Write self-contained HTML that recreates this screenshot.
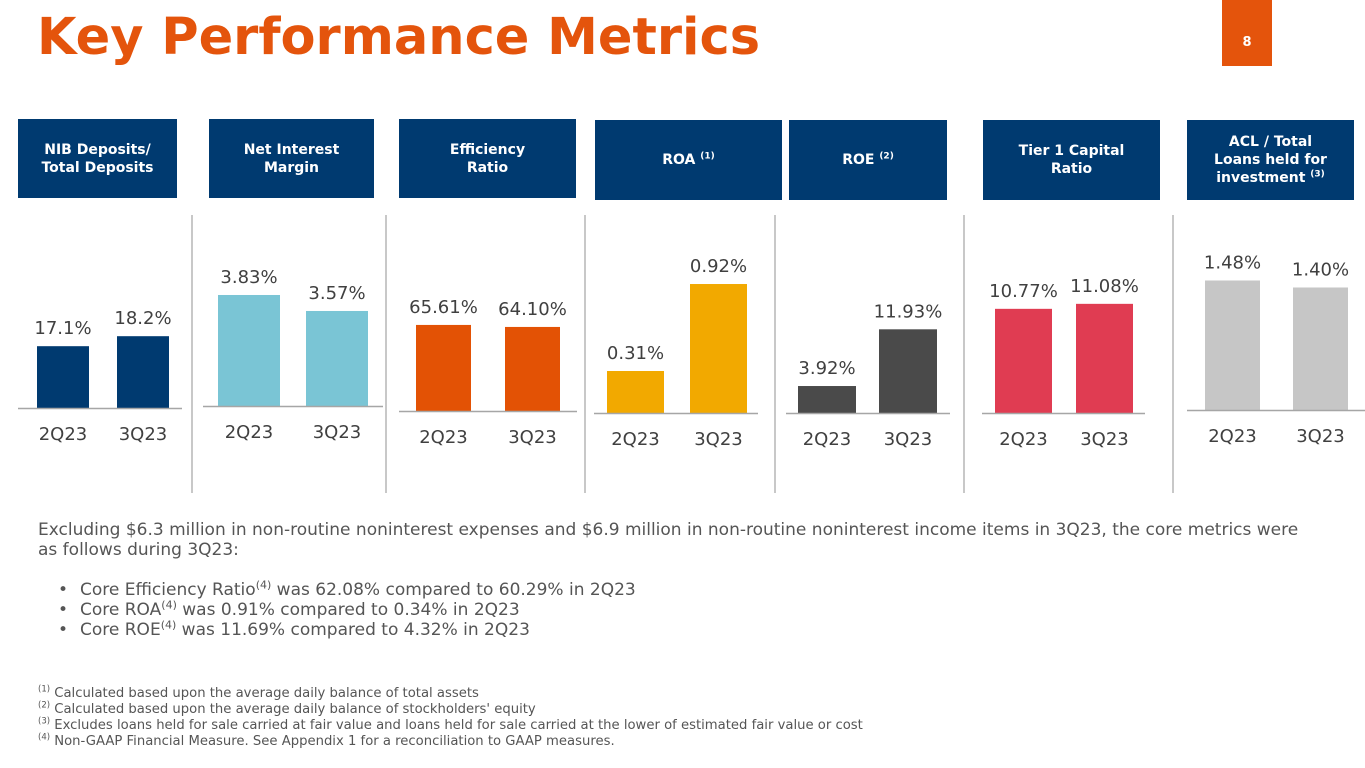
<!DOCTYPE html>
<html><head><meta charset="utf-8">
<style>
body{margin:0;width:1365px;height:768px;background:#fff;position:relative;overflow:hidden;font-family:"DejaVu Sans","Liberation Sans",sans-serif;}
.title{position:absolute;left:37px;top:8px;font-family:"DejaVu Sans","Liberation Sans",sans-serif;font-weight:bold;font-size:51px;color:#E4540C;}
.pg{position:absolute;left:1222px;top:0;width:50px;height:66px;background:#E4540C;color:#fff;font-size:13px;font-weight:bold;text-align:center;line-height:86px;}
.hdr{position:absolute;background:#003A70;color:#fff;font-weight:bold;font-size:14px;line-height:18px;display:flex;align-items:center;justify-content:center;text-align:center;}
.hdr sup{font-size:9px;line-height:0;}
.div{position:absolute;top:215px;width:2px;height:278px;background:#C8C8C8;}
.txt{position:absolute;left:38px;color:#555;font-size:17px;line-height:20px;}
.txt sup{font-size:11px;line-height:0;}
.fn{position:absolute;left:38px;top:686px;color:#555;font-size:13.2px;line-height:16px;}
.fn sup{font-size:8.5px;line-height:0;}
</style></head><body>
<div class="title">Key Performance Metrics</div>
<div class="pg">8</div>

<div class="hdr" style="left:18px;top:119px;width:159px;height:79px"><span>NIB Deposits/<br>Total Deposits</span></div>
<div class="hdr" style="left:209px;top:119px;width:165px;height:79px"><span>Net Interest<br>Margin</span></div>
<div class="hdr" style="left:399px;top:119px;width:177px;height:79px"><span>Efficiency<br>Ratio</span></div>
<div class="hdr" style="left:595px;top:120px;width:187px;height:80px"><span>ROA&nbsp;<sup>(1)</sup></span></div>
<div class="hdr" style="left:789px;top:120px;width:158px;height:80px"><span>ROE&nbsp;<sup>(2)</sup></span></div>
<div class="hdr" style="left:983px;top:120px;width:177px;height:80px"><span>Tier 1 Capital<br>Ratio</span></div>
<div class="hdr" style="left:1187px;top:120px;width:167px;height:80px"><span>ACL / Total<br>Loans held for<br>investment&nbsp;<sup>(3)</sup></span></div>

<div class="div" style="left:191px"></div>
<div class="div" style="left:385px"></div>
<div class="div" style="left:584px"></div>
<div class="div" style="left:774px"></div>
<div class="div" style="left:963px"></div>
<div class="div" style="left:1172px"></div>

<svg id="chart" width="1365" height="768" style="position:absolute;left:0;top:0"></svg>

<div class="txt" style="top:520px;width:1275px">Excluding $6.3 million in non-routine noninterest expenses and $6.9 million in non-routine noninterest income items in 3Q23, the core metrics were as follows during 3Q23:</div>
<div class="txt" style="top:580px;left:60px">
<div style="position:relative;padding-left:20px"><span style="position:absolute;left:-2px">•</span>Core Efficiency Ratio<sup>(4)</sup> was 62.08% compared to 60.29% in 2Q23</div>
<div style="position:relative;padding-left:20px"><span style="position:absolute;left:-2px">•</span>Core ROA<sup>(4)</sup> was 0.91% compared to 0.34% in 2Q23</div>
<div style="position:relative;padding-left:20px"><span style="position:absolute;left:-2px">•</span>Core ROE<sup>(4)</sup> was 11.69% compared to 4.32% in 2Q23</div>
</div>
<div class="fn">
<sup>(1)</sup> Calculated based upon the average daily balance of total assets<br>
<sup>(2)</sup> Calculated based upon the average daily balance of stockholders' equity<br>
<sup>(3)</sup> Excludes loans held for sale carried at fair value and loans held for sale carried at the lower of estimated fair value or cost<br>
<sup>(4)</sup> Non-GAAP Financial Measure. See Appendix 1 for a reconciliation to GAAP measures.</div>

<script>
const categories = ["2Q23", "3Q23"];
const nibValues = [17.1, 18.2];
const nimValues = [3.83, 3.57];
const effValues = [65.61, 64.10];
const roaValues = [0.31, 0.92];
const roeValues = [3.92, 11.93];
const tier1Values = [10.77, 11.08];
const aclValues = [1.48, 1.40];
const nibLabels = ["17.1%", "18.2%"];
const nimLabels = ["3.83%", "3.57%"];
const effLabels = ["65.61%", "64.10%"];
const roaLabels = ["0.31%", "0.92%"];
const roeLabels = ["3.92%", "11.93%"];
const tier1Labels = ["10.77%", "11.08%"];
const aclLabels = ["1.48%", "1.40%"];

const NS = "http://www.w3.org/2000/svg";
const svg = document.getElementById("chart");
const panels = [
 {name:"nib", vals:nibValues, labs:nibLabels, color:"#003A70", base:408, lx1:18, lx2:182, xs:[37,117], w:52, min:10.3, k:9.09},
 {name:"nim", vals:nimValues, labs:nimLabels, color:"#7AC5D5", base:406, lx1:203, lx2:383, xs:[218,306], w:62, min:2.025, k:61.5},
 {name:"efficiency", vals:effValues, labs:effLabels, color:"#E35205", base:411, lx1:399, lx2:577, xs:[416,505], w:55, min:0.9, k:1.33},
 {name:"roa", vals:roaValues, labs:roaLabels, color:"#F2A900", base:413, lx1:594, lx2:758, xs:[607,690], w:57, min:0.0155, k:142.6},
 {name:"roe", vals:roeValues, labs:roeLabels, color:"#4A4A4A", base:413, lx1:786, lx2:950, xs:[798,879], w:58, min:0.11, k:7.08},
 {name:"tier1", vals:tier1Values, labs:tier1Labels, color:"#E03C52", base:413, lx1:982, lx2:1145, xs:[995,1076], w:57, min:4.3, k:16.1},
 {name:"acl", vals:aclValues, labs:aclLabels, color:"#C6C6C6", base:410, lx1:1187, lx2:1365, xs:[1205,1293], w:55, min:0, k:87.5}
];
function mk(tag, attrs){const e=document.createElementNS(NS,tag);for(const a in attrs)e.setAttribute(a,attrs[a]);return e;}
panels.forEach(p=>{
  const y = v => p.base - (v - p.min) * p.k;
  p.vals.forEach((v,i)=>{
    const top = y(v);
    const r = mk("rect",{x:p.xs[i],y:top,width:p.w,height:p.base-top,fill:p.color});
    
    
    svg.appendChild(r);
    const t = mk("text",{x:p.xs[i]+p.w/2,y:top-12,"text-anchor":"middle","font-size":"18","fill":"#404040","font-family":"DejaVu Sans, Liberation Sans, sans-serif"});
    t.textContent = p.labs[i];
    
    
    svg.appendChild(t);
    const c = mk("text",{x:p.xs[i]+p.w/2,y:p.base+32,"text-anchor":"middle","font-size":"18","fill":"#404040","font-family":"DejaVu Sans, Liberation Sans, sans-serif"});
    c.textContent = categories[i];
    
    
    svg.appendChild(c);
  });
  const l = mk("line",{x1:p.lx1,x2:p.lx2,y1:p.base+0.5,y2:p.base+0.5,stroke:"#A6A6A6","stroke-width":"1.5"});
  
  
  svg.appendChild(l);
});
</script>
</body></html>
